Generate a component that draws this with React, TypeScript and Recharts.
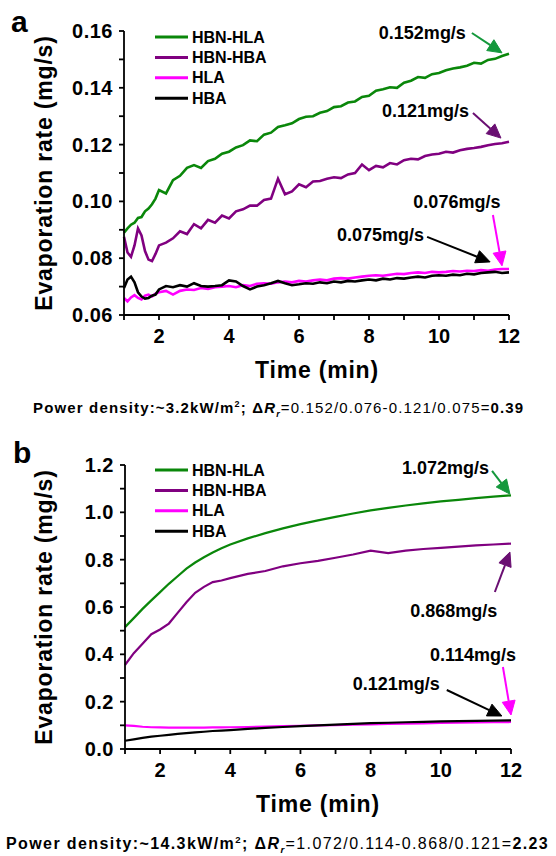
import React from 'react';
import { LineChart, Line, XAxis, YAxis, Legend, ReferenceLine } from 'recharts';

const FONT = '"Liberation Sans", Arial, Helvetica, sans-serif';

// ---------- data ----------
const seriesNames = ['HBN-HLA', 'HBN-HBA', 'HLA', 'HBA'];
const seriesColors = ['#0a870a', '#800080', '#ff00ff', '#000000'];

// panel a (~3.2 kW/m2)
const timeA = [1.0, 1.1, 1.2, 1.3, 1.4, 1.5, 1.6, 1.7, 1.8, 1.9, 2.0, 2.2, 2.4, 2.6, 2.8, 3.0, 3.2, 3.4, 3.6, 3.8, 4.0, 4.2, 4.4, 4.6, 4.8, 5.0, 5.2, 5.4, 5.6, 5.8, 6.0, 6.2, 6.4, 6.6, 6.8, 7.0, 7.2, 7.4, 7.6, 7.8, 8.0, 8.2, 8.4, 8.6, 8.8, 9.0, 9.2, 9.4, 9.6, 9.8, 10.0, 10.2, 10.4, 10.6, 10.8, 11.0, 11.2, 11.4, 11.6, 11.8, 12.0];
const hbnHlaA = [0.0890, 0.0905, 0.0918, 0.0925, 0.0942, 0.0945, 0.0965, 0.0975, 0.0990, 0.1010, 0.1040, 0.1028, 0.1075, 0.1090, 0.1118, 0.1128, 0.1118, 0.1142, 0.1150, 0.1168, 0.1175, 0.1190, 0.1198, 0.1215, 0.1212, 0.1235, 0.1242, 0.1262, 0.1268, 0.1275, 0.1290, 0.1298, 0.1300, 0.1312, 0.1318, 0.1332, 0.1335, 0.1348, 0.1352, 0.1368, 0.1372, 0.1390, 0.1395, 0.1402, 0.1400, 0.1418, 0.1425, 0.1438, 0.1435, 0.1448, 0.1452, 0.1462, 0.1468, 0.1472, 0.1478, 0.1488, 0.1485, 0.1498, 0.1502, 0.1512, 0.1520];
const hbnHbaA = [0.0875, 0.0820, 0.0805, 0.0845, 0.0905, 0.0880, 0.0825, 0.0795, 0.0790, 0.0815, 0.0845, 0.0855, 0.0870, 0.0895, 0.0885, 0.0920, 0.0905, 0.0935, 0.0925, 0.0950, 0.0940, 0.0965, 0.0972, 0.0985, 0.0985, 0.1005, 0.1010, 0.1080, 0.1025, 0.1035, 0.1060, 0.1050, 0.1070, 0.1072, 0.1080, 0.1085, 0.1082, 0.1095, 0.1100, 0.1130, 0.1110, 0.1125, 0.1120, 0.1135, 0.1130, 0.1145, 0.1150, 0.1148, 0.1160, 0.1165, 0.1168, 0.1175, 0.1172, 0.1180, 0.1185, 0.1188, 0.1192, 0.1198, 0.1202, 0.1205, 0.1210];
const hlaA = [0.0660, 0.0648, 0.0662, 0.0670, 0.0660, 0.0655, 0.0668, 0.0672, 0.0665, 0.0675, 0.0680, 0.0685, 0.0672, 0.0685, 0.0690, 0.0688, 0.0695, 0.0692, 0.0698, 0.0700, 0.0702, 0.0698, 0.0705, 0.0702, 0.0710, 0.0712, 0.0710, 0.0715, 0.0718, 0.0715, 0.0720, 0.0718, 0.0722, 0.0725, 0.0722, 0.0728, 0.0730, 0.0728, 0.0732, 0.0735, 0.0738, 0.0740, 0.0738, 0.0742, 0.0745, 0.0744, 0.0748, 0.0750, 0.0748, 0.0752, 0.0750, 0.0752, 0.0755, 0.0753, 0.0756, 0.0755, 0.0758, 0.0756, 0.0760, 0.0762, 0.0762];
const hbaA = [0.0695, 0.0725, 0.0735, 0.0715, 0.0680, 0.0665, 0.0658, 0.0660, 0.0668, 0.0672, 0.0690, 0.0702, 0.0698, 0.0705, 0.0700, 0.0712, 0.0702, 0.0700, 0.0702, 0.0705, 0.0722, 0.0718, 0.0702, 0.0690, 0.0700, 0.0705, 0.0712, 0.0720, 0.0712, 0.0705, 0.0708, 0.0712, 0.0710, 0.0715, 0.0712, 0.0718, 0.0715, 0.0720, 0.0718, 0.0722, 0.0725, 0.0722, 0.0728, 0.0725, 0.0730, 0.0728, 0.0732, 0.0735, 0.0732, 0.0738, 0.0740, 0.0738, 0.0742, 0.0740, 0.0745, 0.0743, 0.0748, 0.0750, 0.0752, 0.0748, 0.0750];

// panel b (~14.3 kW/m2)
const timeB = [1, 1.25, 1.5, 1.75, 2, 2.25, 2.5, 2.75, 3, 3.25, 3.5, 3.75, 4, 4.5, 5, 5.5, 6, 6.5, 7, 7.5, 8, 8.5, 9, 9.5, 10, 10.5, 11, 11.5, 12];
const hbnHlaB = [0.515, 0.553, 0.592, 0.628, 0.663, 0.698, 0.730, 0.762, 0.788, 0.810, 0.830, 0.848, 0.864, 0.890, 0.912, 0.932, 0.950, 0.966, 0.981, 0.995, 1.008, 1.019, 1.029, 1.038, 1.046, 1.053, 1.060, 1.066, 1.072];
const hbnHbaB = [0.355, 0.405, 0.445, 0.485, 0.505, 0.530, 0.575, 0.620, 0.660, 0.685, 0.705, 0.712, 0.722, 0.740, 0.752, 0.772, 0.785, 0.795, 0.808, 0.822, 0.838, 0.828, 0.838, 0.845, 0.850, 0.855, 0.860, 0.864, 0.868];
const hlaB = [0.100, 0.098, 0.094, 0.092, 0.091, 0.090, 0.090, 0.090, 0.090, 0.090, 0.091, 0.091, 0.092, 0.093, 0.095, 0.097, 0.098, 0.100, 0.101, 0.103, 0.104, 0.106, 0.107, 0.108, 0.110, 0.111, 0.112, 0.113, 0.114];
const hbaB = [0.035, 0.041, 0.047, 0.052, 0.056, 0.060, 0.064, 0.067, 0.070, 0.073, 0.076, 0.078, 0.080, 0.085, 0.089, 0.093, 0.097, 0.100, 0.103, 0.106, 0.109, 0.111, 0.113, 0.115, 0.117, 0.118, 0.119, 0.120, 0.121];

// ticks
const xTicks = [1, 2, 3, 4, 5, 6, 7, 8, 9, 10, 11, 12];
const yTicksA = [0.06, 0.07, 0.08, 0.09, 0.1, 0.11, 0.12, 0.13, 0.14, 0.15, 0.16];
const yTicksB = [0, 0.1, 0.2, 0.3, 0.4, 0.5, 0.6, 0.7, 0.8, 0.9, 1.0, 1.1, 1.2];

// annotation labels (end values)
const annotLabelsA = ['0.152mg/s', '0.121mg/s', '0.076mg/s', '0.075mg/s'];
const annotLabelsB = ['1.072mg/s', '0.868mg/s', '0.114mg/s', '0.121mg/s'];

function buildRows(time: number[], cols: number[][]) {
  return time.map((t, i) => {
    const row: any = { t };
    seriesNames.forEach((n, k) => {
      row[n] = cols[k][i];
    });
    return row;
  });
}

const rowsA = buildRows(timeA, [hbnHlaA, hbnHbaA, hlaA, hbaA]);
const rowsB = buildRows(timeB, [hbnHlaB, hbnHbaB, hlaB, hbaB]);

// annotation geometry (data coordinates of arrow start / tip, label offsets in px)
const arrowColors = ['#14983c', '#6a0f72', '#ff00ff', '#000000'];
const annotGeomA = [
  { from: [10.94, 0.1593], to: [11.8, 0.1523], tdx: -6, tdy: 6.5, anchor: 'end' },
  { from: [10.97, 0.1311], to: [11.77, 0.1223], tdx: -4, tdy: 3.5, anchor: 'end' },
  { from: [11.54, 0.0952], to: [11.8, 0.0773], tdx: -36, tdy: -7.5, anchor: 'middle' },
  { from: [9.66, 0.0875], to: [11.46, 0.0787], tdx: -3, tdy: 4.5, anchor: 'end' },
];
const annotGeomB = [
  { from: [11.46, 1.175], to: [11.97, 1.077], tdx: -3, tdy: 3.5, anchor: 'end' },
  { from: [11.54, 0.6633], to: [11.97, 0.8323], tdx: -41, tdy: 24.5, anchor: 'middle' },
  { from: [11.77, 0.3464], to: [12.0, 0.1436], tdx: -30, tdy: -6.5, anchor: 'middle' },
  { from: [10.17, 0.2493], to: [11.74, 0.1394], tdx: -7, tdy: 0.5, anchor: 'end' },
];

// ---------- components ----------
const makeArrow = (color: string, label: string, tdx: number, tdy: number, anchor: string) => (p: any) => {
  const { x1, y1, x2, y2 } = p;
  if (x1 == null || y1 == null) return <g />;
  const dx = x2 - x1;
  const dy = y2 - y1;
  const len = Math.hypot(dx, dy) || 1;
  const ux = dx / len;
  const uy = dy / len;
  const L = 14;
  const W = 6.5;
  const bx = x2 - ux * L;
  const by = y2 - uy * L;
  const pts = `${x2},${y2} ${bx - uy * W},${by + ux * W} ${bx + uy * W},${by - ux * W}`;
  return (
    <g>
      <line x1={x1} y1={y1} x2={bx} y2={by} stroke={color} strokeWidth={2} />
      <polygon points={pts} fill={color} stroke={color} strokeWidth={1} />
      <text x={x1 + tdx} y={y1 + tdy} textAnchor={anchor as any} fontFamily={FONT} fontWeight="bold" fontSize={18} fill="#000">
        {label}
      </text>
    </g>
  );
};

const XTick = (props: any) => {
  const { x, y, payload } = props;
  const v = payload.value;
  if (Math.round(v) % 2 !== 0) return <g />;
  return (
    <text x={x} y={y} dy={21} textAnchor="middle" fontFamily={FONT} fontWeight="bold" fontSize={20} fill="#000">
      {String(v)}
    </text>
  );
};

const makeYTick = (scale: number, digits: number) => (props: any) => {
  const { x, y, payload } = props;
  const v = payload.value;
  if (Math.round(v * scale) % 2 !== 0) return <g />;
  return (
    <text x={x - 4} y={y} dy={7} textAnchor="end" fontFamily={FONT} fontWeight="bold" fontSize={20} letterSpacing={0.5} fill="#000">
      {v.toFixed(digits)}
    </text>
  );
};

const LegendBox = () => (
  <svg width={170} height={90}>
    {seriesNames.map((n, i) => {
      const cy = 10 + i * 20.4;
      return (
        <g key={n}>
          <line x1={5} x2={38} y1={cy} y2={cy} stroke={seriesColors[i]} strokeWidth={3} />
          <text x={42} y={cy + 5.5} fontFamily={FONT} fontWeight="bold" fontSize={16} fill="#000">
            {n}
          </text>
        </g>
      );
    })}
  </svg>
);

const axisStyle = { stroke: '#000', strokeWidth: 1.8 };

function Panel(props: {
  rows: any[];
  yDomain: [number, number];
  yTicks: number[];
  yScale: number;
  yDigits: number;
  marginLeft: number;
  marginRight: number;
  strokeWidth: number;
  labels: string[];
  geom: any[];
  legendTop: number;
}) {
  const { rows, yDomain, yTicks, yScale, yDigits, marginLeft, marginRight, strokeWidth, labels, geom, legendTop } = props;
  return (
    <LineChart width={556} height={390} data={rows} margin={{ top: 31, right: marginRight, left: marginLeft, bottom: 15 }}>
      <XAxis
        dataKey="t"
        type="number"
        domain={[1, 12]}
        ticks={xTicks}
        interval={0}
        tick={<XTick />}
        tickSize={5}
        tickLine={axisStyle}
        axisLine={axisStyle}
        height={60}
      />
      <YAxis
        type="number"
        domain={yDomain}
        ticks={yTicks}
        interval={0}
        tick={makeYTick(yScale, yDigits)}
        tickSize={5}
        tickLine={axisStyle}
        axisLine={axisStyle}
        width={70}
        allowDataOverflow
      />
      <Legend
        layout="vertical"
        align="center"
        verticalAlign="middle"
        content={() => <LegendBox />}
        wrapperStyle={{ left: 150, top: legendTop, width: 170, height: 90 }}
      />
      {seriesNames.map((n, i) => (
        <Line
          key={n}
          type="linear"
          dataKey={n}
          stroke={seriesColors[i]}
          strokeWidth={strokeWidth}
          dot={false}
          activeDot={false}
          isAnimationActive={false}
        />
      ))}
      {geom.map((g, i) => (
        <ReferenceLine
          key={'ann' + i}
          segment={[
            { x: g.from[0], y: g.from[1] },
            { x: g.to[0], y: g.to[1] },
          ]}
          ifOverflow="visible"
          stroke={arrowColors[i]}
          shape={makeArrow(arrowColors[i], labels[i], g.tdx, g.tdy, g.anchor)}
        />
      ))}
    </LineChart>
  );
}

const Caption = (props: { y: number; x: number; fontSize: number; spacing: number; pd: string; vals: string; result: string }) => {
  const { y, x, fontSize, spacing, pd, vals, result } = props;
  const small = fontSize * 0.6;
  return (
    <text x={x} y={y} fontFamily={FONT} fontSize={fontSize} letterSpacing={spacing} fill="#000">
      <tspan fontWeight="bold">{pd}</tspan>
      <tspan fontWeight="bold" fontSize={small} dy={-fontSize * 0.4}>2</tspan>
      <tspan fontWeight="bold" dy={fontSize * 0.4}>; Δ</tspan>
      <tspan fontWeight="bold" fontStyle="italic">R</tspan>
      <tspan fontWeight="bold" fontStyle="italic" fontSize={small} dy={fontSize * 0.25}>r</tspan>
      <tspan dy={-fontSize * 0.25}>{vals}</tspan>
      <tspan fontWeight="bold">{result}</tspan>
    </text>
  );
};

export default function App() {
  return (
    <div style={{ position: 'absolute', left: 0, top: 0, width: 556, height: 856, background: '#fff', overflow: 'hidden' }}>
      <div style={{ position: 'absolute', left: 0, top: 0 }}>
        <Panel
          rows={rowsA}
          yDomain={[0.06, 0.16]}
          yTicks={yTicksA}
          yScale={100}
          yDigits={2}
          marginLeft={54}
          marginRight={47}
          strokeWidth={2.6}
          labels={annotLabelsA}
          geom={annotGeomA}
          legendTop={27}
        />
      </div>
      <div style={{ position: 'absolute', left: 0, top: 434 }}>
        <Panel
          rows={rowsB}
          yDomain={[0, 1.2]}
          yTicks={yTicksB}
          yScale={10}
          yDigits={1}
          marginLeft={55}
          marginRight={45}
          strokeWidth={2.2}
          labels={annotLabelsB}
          geom={annotGeomB}
          legendTop={26}
        />
      </div>
      <svg width={556} height={856} style={{ position: 'absolute', left: 0, top: 0, pointerEvents: 'none' }}>
        <text x={11} y={32} fontFamily={FONT} fontWeight="bold" fontSize={30}>a</text>
        <text x={13} y={463} fontFamily={FONT} fontWeight="bold" fontSize={30}>b</text>
        <text transform="translate(52,173) rotate(-90)" textAnchor="middle" fontFamily={FONT} fontWeight="bold" fontSize={23} letterSpacing={0.8}>
          Evaporation rate (mg/s)
        </text>
        <text transform="translate(52,607) rotate(-90)" textAnchor="middle" fontFamily={FONT} fontWeight="bold" fontSize={23} letterSpacing={0.8}>
          Evaporation rate (mg/s)
        </text>
        <text x={317} y={378} textAnchor="middle" fontFamily={FONT} fontWeight="bold" fontSize={23} letterSpacing={0.8}>
          Time (min)
        </text>
        <text x={318} y={812} textAnchor="middle" fontFamily={FONT} fontWeight="bold" fontSize={23} letterSpacing={0.8}>
          Time (min)
        </text>
        <Caption x={33} y={413} fontSize={15} spacing={1.15} pd="Power density:~3.2kW/m" vals="=0.152/0.076-0.121/0.075=" result="0.39" />
        <Caption x={6} y={849} fontSize={16} spacing={1.4} pd="Power density:~14.3kW/m" vals="=1.072/0.114-0.868/0.121=" result="2.23" />
      </svg>
    </div>
  );
}
